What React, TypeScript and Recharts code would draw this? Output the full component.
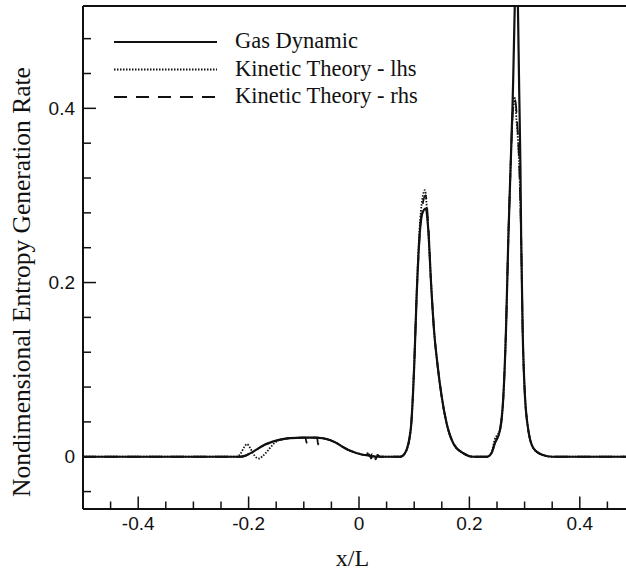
import { LineChart, Line, XAxis, YAxis, ReferenceLine, Legend } from 'recharts'

const X_MIN = -0.5
const X_MAX = 0.4837
const Y_MIN = -0.06
const Y_MAX = 0.5175

// gas dynamic (solid)
const gasX = [
  -0.5, -0.215, -0.207, -0.2, -0.19, -0.18, -0.17, -0.16, -0.15, -0.14, -0.125, -0.1, -0.08, -0.065,
  -0.052, -0.04, -0.03, -0.02, -0.01, 0, 0.01, 0.02, 0.032, 0.075, 0.0833, 0.0936, 0.1002, 0.1044,
  0.1105, 0.1155, 0.121, 0.1256, 0.1305, 0.1359, 0.142, 0.1498, 0.1588, 0.171, 0.189, 0.207, 0.232,
  0.24, 0.246, 0.2554, 0.2615, 0.2663, 0.2705, 0.2745, 0.278, 0.2855, 0.2905, 0.2925, 0.2938, 0.2965,
  0.3007, 0.305, 0.3158, 0.333, 0.35, 0.5,
]
const gasY = [
  0, 0, 0.001, 0.003, 0.0065, 0.0105, 0.014, 0.0165, 0.0185, 0.02, 0.0213, 0.022, 0.022, 0.0212,
  0.019, 0.0155, 0.0115, 0.008, 0.0055, 0.0035, 0.002, 0.001, 0, 0, 0.004, 0.0307, 0.107, 0.184,
  0.26, 0.281, 0.285, 0.26, 0.2, 0.1455, 0.107, 0.069, 0.0383, 0.0153, 0.004, 0, 0,
  0.004, 0.0153, 0.0307, 0.069, 0.1455, 0.25, 0.33, 0.4, 0.57, 0.41, 0.33, 0.25, 0.1455,
  0.069, 0.0383, 0.01, 0.002, 0, 0,
]

// kinetic theory - lhs (dotted)
const lhsX = [
  -0.5, -0.222, -0.214, -0.208, -0.203, -0.198, -0.192, -0.186, -0.181, -0.175, -0.167, -0.16, -0.153,
  -0.145, -0.135, -0.125, -0.1, -0.08, -0.065, -0.052, -0.04, -0.03, -0.02, -0.01, 0, 0.01, 0.016,
  0.02, 0.024, 0.028, 0.032, 0.036, 0.075, 0.0833, 0.0936, 0.1, 0.1042, 0.1095, 0.1145, 0.1195,
  0.1245, 0.1305, 0.1359, 0.142, 0.1498, 0.1588, 0.171, 0.189, 0.207, 0.232, 0.24, 0.246, 0.2554,
  0.2615, 0.2663, 0.2705, 0.2745, 0.2785, 0.2815, 0.2855, 0.2905, 0.2938, 0.2965, 0.3007, 0.305,
  0.3158, 0.333, 0.35, 0.5,
]
const lhsY = [
  0, 0, 0.004, 0.011, 0.0145, 0.011, 0.004, -0.001, -0.002, 0.0005, 0.0057, 0.011, 0.0158,
  0.019, 0.0205, 0.0213, 0.022, 0.022, 0.0212, 0.019, 0.0155, 0.0115, 0.008, 0.0055, 0.0035, 0.002, 0.004,
  0.001, 0.003, -0.001, 0.002, 0, 0, 0.004, 0.031, 0.107, 0.184, 0.26, 0.295, 0.306,
  0.27, 0.2, 0.1455, 0.107, 0.069, 0.0383, 0.0153, 0.004, 0, 0, 0.005, 0.02, 0.0307,
  0.069, 0.1455, 0.25, 0.33, 0.395, 0.413, 0.385, 0.33, 0.25, 0.1455, 0.069, 0.0383,
  0.01, 0.002, 0, 0,
]

// kinetic theory - rhs (dashed)
const rhsX = [
  -0.5, -0.215, -0.207, -0.2, -0.19, -0.18, -0.17, -0.16, -0.15, -0.14, -0.125, -0.097, -0.095,
  -0.093, -0.076, -0.074, -0.072, -0.065, -0.052, -0.04, -0.03, -0.02, -0.01, 0, 0.01, 0.018, 0.022,
  0.026, 0.03, 0.034, 0.038, 0.075, 0.0833, 0.0936, 0.1002, 0.1044, 0.1105, 0.1155, 0.1205, 0.1256,
  0.1305, 0.1359, 0.142, 0.1498, 0.1588, 0.171, 0.189, 0.207, 0.232, 0.24, 0.246, 0.2554, 0.2615,
  0.2663, 0.2705, 0.2745, 0.2785, 0.2825, 0.2865, 0.2905, 0.2938, 0.2965, 0.3007, 0.305, 0.3158,
  0.333, 0.35, 0.5,
]
const rhsY = [
  0, 0, 0.001, 0.003, 0.0065, 0.0105, 0.014, 0.0165, 0.0185, 0.02, 0.0213, 0.022, 0.016,
  0.022, 0.022, 0.014, 0.022, 0.0212, 0.019, 0.0155, 0.0115, 0.008, 0.0055, 0.0035, 0.002, 0.003, -0.002,
  0.004, -0.003, 0.002, 0, 0, 0.004, 0.0307, 0.107, 0.184, 0.26, 0.29, 0.3, 0.265,
  0.2, 0.1455, 0.107, 0.069, 0.0383, 0.0153, 0.004, 0, 0, 0.004, 0.0153, 0.0307, 0.069,
  0.1455, 0.25, 0.33, 0.395, 0.41, 0.385, 0.33, 0.25, 0.1455, 0.069, 0.0383, 0.01,
  0.002, 0, 0,
]

const xTicks = [-0.45, -0.4, -0.35, -0.3, -0.25, -0.2, -0.15, -0.1, -0.05, 0, 0.05, 0.1, 0.15, 0.2, 0.25, 0.3, 0.35, 0.4, 0.45]
const yTicks = [-0.04, 0, 0.04, 0.08, 0.12, 0.16, 0.2, 0.24, 0.28, 0.32, 0.36, 0.4, 0.44, 0.48]

const toPoints = (xs: number[], ys: number[]) => xs.map((x, i) => ({ x, y: ys[i] }))

const gasData = toPoints(gasX, gasY)
const lhsData = toPoints(lhsX, lhsY)
const rhsData = toPoints(rhsX, rhsY)

const INK = '#111'
const SANS = '"Liberation Sans", Arial, sans-serif'
const SERIF = '"Liberation Serif", "Times New Roman", serif'

const isMajor = (v: number) => Math.abs(v * 5 - Math.round(v * 5)) < 1e-6
const fmt = (v: number) => String(Math.round(v * 10) / 10)

function XTick(props: any) {
  const { x, y, payload } = props
  const major = isMajor(payload.value)
  return (
    <g>
      <line x1={x} x2={x} y1={y} y2={y - (major ? 12.5 : 7.5)} stroke={INK} strokeWidth={1.5} />
      {major && (
        <text x={x} y={y + 21} textAnchor="middle" fontFamily={SANS} fontSize={19} fill={INK}>
          {fmt(payload.value)}
        </text>
      )}
    </g>
  )
}

function YTick(props: any) {
  const { x, y, payload } = props
  const major = isMajor(payload.value)
  return (
    <g>
      <line x1={x} x2={x + (major ? 13 : 8)} y1={y} y2={y} stroke={INK} strokeWidth={1.5} />
      {major && (
        <text x={x - 8} y={y + 6.5} textAnchor="end" fontFamily={SANS} fontSize={19} fill={INK}>
          {fmt(payload.value)}
        </text>
      )}
    </g>
  )
}

function LegendBox(props: any) {
  const items = props.payload || []
  return (
    <svg width={340} height={96} style={{ display: 'block', overflow: 'visible' }}>
      {items.map((it: any, i: number) => {
        const y = 20 + i * 27.5
        return (
          <g key={it.value}>
            <line
              x1={0}
              x2={103}
              y1={y}
              y2={y}
              stroke={INK}
              strokeWidth={it.payload.strokeWidth}
              strokeDasharray={it.payload.strokeDasharray}
            />
            <text x={121} y={y + 6} fontFamily={SERIF} fontSize={22.5} fill={INK}>
              {it.value}
            </text>
          </g>
        )
      })}
    </svg>
  )
}

export default function App() {
  return (
    <div style={{ position: 'absolute', left: 0, top: 0, width: 626, height: 573, background: '#fff' }}>
      <LineChart width={626} height={573} margin={{ top: 6, right: 0, bottom: 0, left: 0 }}>
        <XAxis
          dataKey="x"
          type="number"
          domain={[X_MIN, X_MAX]}
          allowDataOverflow
          ticks={xTicks}
          interval={0}
          tick={<XTick />}
          tickLine={false}
          tickSize={0}
          tickMargin={0}
          axisLine={{ stroke: INK, strokeWidth: 2 }}
          height={64}
        />
        <YAxis
          type="number"
          domain={[Y_MIN, Y_MAX]}
          allowDataOverflow
          ticks={yTicks}
          interval={0}
          tick={<YTick />}
          tickLine={false}
          tickSize={0}
          tickMargin={0}
          axisLine={{ stroke: INK, strokeWidth: 2 }}
          width={83}
        />
        <ReferenceLine y={Y_MAX} stroke={INK} strokeWidth={2} />
        <Legend
          layout="vertical"
          align="center"
          verticalAlign="middle"
          content={<LegendBox />}
          wrapperStyle={{ left: 114, top: 22, width: 340, height: 96 }}
        />
        <Line
          data={gasData}
          dataKey="y"
          name="Gas Dynamic"
          type="monotone"
          stroke={INK}
          strokeWidth={2.2}
          dot={false}
          isAnimationActive={false}
        />
        <Line
          data={lhsData}
          dataKey="y"
          name="Kinetic Theory - lhs"
          type="monotone"
          stroke={INK}
          strokeWidth={1.8}
          strokeDasharray="1.5 1.5"
          dot={false}
          isAnimationActive={false}
        />
        <Line
          data={rhsData}
          dataKey="y"
          name="Kinetic Theory - rhs"
          type="monotone"
          stroke={INK}
          strokeWidth={1.8}
          strokeDasharray="13 9"
          dot={false}
          isAnimationActive={false}
        />
        <text x={30} y={282} transform="rotate(-90 30 282)" textAnchor="middle" fontFamily={SERIF} fontSize={25.5} fill={INK}>
          Nondimensional Entropy Generation Rate
        </text>
        <text x={352.5} y={566} textAnchor="middle" fontFamily={SERIF} fontSize={24} fill={INK}>
          x/L
        </text>
      </LineChart>
    </div>
  )
}
